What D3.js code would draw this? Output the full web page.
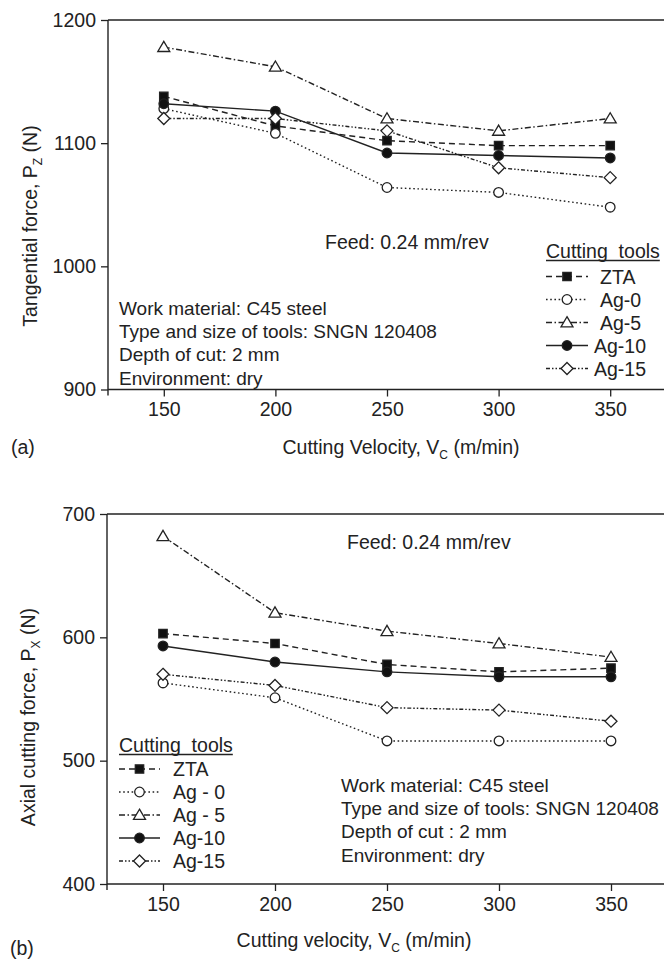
<!DOCTYPE html>
<html><head><meta charset="utf-8">
<script src="https://cdn.jsdelivr.net/npm/d3@7"></script>
<style>
body{margin:0;background:#fff;}
svg text{font-family:"Liberation Sans",Arial,Helvetica,sans-serif;fill:#222;}
</style></head>
<body><svg id="chart" width="664" height="963"></svg>
<script>
// ---- data ----
const velocities = [150, 200, 250, 300, 350];
const xTicks = [150, 200, 250, 300, 350];
const seriesNames = ["ZTA", "Ag-0", "Ag-5", "Ag-10", "Ag-15"];
const legendLabelsA = ["ZTA", "Ag-0", "Ag-5", "Ag-10", "Ag-15"];
const legendLabelsB = ["ZTA", "Ag - 0", "Ag - 5", "Ag-10", "Ag-15"];

const tangZTA  = [1138, 1114, 1102, 1098, 1098];
const tangAg0  = [1128, 1108, 1064, 1060, 1048];
const tangAg5  = [1178, 1162, 1120, 1110, 1120];
const tangAg10 = [1132, 1126, 1092, 1090, 1088];
const tangAg15 = [1120, 1120, 1110, 1080, 1072];
const tangTicks = [900, 1000, 1100, 1200];

const axZTA  = [603, 595, 578, 572, 575];
const axAg0  = [563, 551, 516, 516, 516];
const axAg5  = [682, 620, 605, 595, 584];
const axAg10 = [593, 580, 572, 568, 568];
const axAg15 = [570, 561, 543, 541, 532];
const axTicks = [400, 500, 600, 700];

const notesA = ["Work material: C45 steel", "Type and size of tools: SNGN 120408", "Depth of cut: 2 mm", "Environment: dry"];
const notesB = ["Work material: C45 steel", "Type and size of tools: SNGN 120408", "Depth of cut : 2 mm", "Environment: dry"];

// ---- styles ----
const styles = {
  "ZTA":   {dash: "6,4", marker: "square", fill: "#111"},
  "Ag-0":  {dash: "1.6,2.6", marker: "circle", fill: "#fff"},
  "Ag-5":  {dash: "6,2.5,1.5,2.5", marker: "triangle", fill: "#fff"},
  "Ag-10": {dash: null, marker: "circle", fill: "#111"},
  "Ag-15": {dash: "4,2,1.5,2,1.5,2", marker: "diamond", fill: "#fff"}
};
const INK = "#222";
const FS = 19.5;
const NOTE_FS = 19;
const SUB = 12;

const svg = d3.select("#chart");

function markerPath(type) {
  if (type === "square") return "M-4.2,-4.2H4.2V4.2H-4.2Z";
  if (type === "circle") return "M4.8,0A4.8,4.8 0 1,1 -4.8,0A4.8,4.8 0 1,1 4.8,0Z";
  if (type === "triangle") return "M0,-5.8L6,4.4H-6Z";
  if (type === "diamond") return "M0,-6L6,0L0,6L-6,0Z";
}

function drawMarker(g, type, fill) {
  return g.append("path").attr("d", markerPath(type))
    .attr("fill", fill).attr("stroke", INK).attr("stroke-width", 1.3);
}

function drawPanel(cfg) {
  const x = d3.scaleLinear().domain([125, 375]).range(cfg.xRange);
  const y = d3.scaleLinear().domain(cfg.yDomain).range(cfg.yRange);
  const g = svg.append("g");
  const x0 = cfg.xRange[0], yb = cfg.yRange[0], yt = cfg.yRange[1];

  // y axis
  const ya = g.append("g").attr("transform", `translate(${x0},0)`)
    .call(d3.axisLeft(y).tickValues(cfg.yTicks).tickSize(7).tickPadding(5).tickFormat(d3.format("d")));
  ya.select(".domain").remove();
  ya.selectAll(".tick line").attr("stroke", INK).attr("stroke-width", 1.3);
  ya.selectAll(".tick text").attr("font-size", FS).attr("font-family", "Liberation Sans, Arial, sans-serif").attr("fill", INK);

  // x axis
  const xa = g.append("g").attr("transform", `translate(0,${yb})`)
    .call(d3.axisBottom(x).tickValues(cfg.xTicks).tickSize(7).tickPadding(6).tickFormat(d3.format("d")));
  xa.select(".domain").remove();
  xa.selectAll(".tick line").attr("stroke", INK).attr("stroke-width", 1.3);
  xa.selectAll(".tick text").attr("font-size", FS).attr("font-family", "Liberation Sans, Arial, sans-serif").attr("fill", INK);

  // frame lines
  g.append("line").attr("x1", x0).attr("x2", x0).attr("y1", yt).attr("y2", yb + 6)
    .attr("stroke", INK).attr("stroke-width", 1.4);
  g.append("line").attr("x1", x0).attr("x2", cfg.xRange[1]).attr("y1", yb).attr("y2", yb)
    .attr("stroke", INK).attr("stroke-width", 1.4);
  g.append("line").attr("x1", x0).attr("x2", cfg.xRange[1]).attr("y1", yt).attr("y2", yt)
    .attr("stroke", INK).attr("stroke-width", 1.4);

  // series
  const line = d3.line().x((d, i) => x(velocities[i])).y(d => y(d));
  seriesNames.forEach((name, k) => {
    const vals = cfg.series[k];
    const st = styles[name];
    g.append("path").datum(vals).attr("d", line).attr("fill", "none")
      .attr("stroke", INK).attr("stroke-width", 1.4)
      .attr("stroke-dasharray", st.dash);
    vals.forEach((v, i) => {
      drawMarker(g, st.marker, st.fill)
        .attr("transform", `translate(${x(velocities[i])},${y(v)})`);
    });
  });

  // feed text
  g.append("text").attr("x", cfg.feedPos[0]).attr("y", cfg.feedPos[1])
    .attr("font-size", FS).text("Feed: 0.24 mm/rev");

  // notes
  cfg.notes.forEach((t, i) => {
    g.append("text").attr("x", cfg.notePos[0]).attr("y", cfg.notePos[1] + i * 23.2)
      .attr("font-size", NOTE_FS).text(t);
  });

  // legend
  const L = cfg.legend;
  const title = g.append("text").attr("x", L.x).attr("y", L.titleY)
    .attr("font-size", FS).attr("xml:space", "preserve").style("white-space", "pre")
    .text("Cutting  tools");
  const tw = title.node().getComputedTextLength();
  g.append("line").attr("x1", L.x).attr("x2", L.x + tw).attr("y1", L.titleY + 2.5).attr("y2", L.titleY + 2.5)
    .attr("stroke", INK).attr("stroke-width", 1.3);
  seriesNames.forEach((name, k) => {
    const st = styles[name];
    const cy = L.y0 + k * 23;
    g.append("line").attr("x1", L.x).attr("x2", L.x + L.lineLen).attr("y1", cy).attr("y2", cy)
      .attr("stroke", INK).attr("stroke-width", 1.3).attr("stroke-dasharray", st.dash);
    drawMarker(g, st.marker, st.fill).attr("transform", `translate(${L.x + L.lineLen / 2},${cy})`);
    g.append("text").attr("x", L.textX[k]).attr("y", cy + 7).attr("font-size", FS).text(cfg.legendLabels[k]);
  });

  // axis titles
  const xt = g.append("text").attr("x", cfg.xTitle[0]).attr("y", cfg.xTitle[1])
    .attr("text-anchor", "middle").attr("font-size", FS);
  xt.append("tspan").text(cfg.xTitleText + ", V");
  xt.append("tspan").attr("font-size", SUB).attr("dy", 5).text("C");
  xt.append("tspan").attr("dy", -5).text(" (m/min)");

  const ytt = g.append("text").attr("transform", `translate(${cfg.yTitle[0]},${cfg.yTitle[1]}) rotate(-90)`)
    .attr("text-anchor", "middle").attr("font-size", FS);
  ytt.append("tspan").text(cfg.yTitleText + ", P");
  ytt.append("tspan").attr("font-size", SUB).attr("dy", 5).text(cfg.ySub);
  ytt.append("tspan").attr("dy", -5).text(" (N)");

  g.append("text").attr("x", cfg.tag[0]).attr("y", cfg.tag[1]).attr("font-size", FS).text(cfg.tagText);
}

drawPanel({
  xRange: [108, 666], yDomain: [900, 1200], yRange: [389.5, 20],
  xTicks: xTicks, yTicks: tangTicks,
  series: [tangZTA, tangAg0, tangAg5, tangAg10, tangAg15],
  feedPos: [325, 249], notes: notesA, notePos: [119, 315],
  legend: {x: 546, titleY: 258, y0: 276.5, lineLen: 42, textX: [600, 600, 600, 594, 594]},
  legendLabels: legendLabelsA,
  xTitle: [401, 454], xTitleText: "Cutting Velocity",
  yTitle: [37, 226], yTitleText: "Tangential force", ySub: "Z",
  tag: [11, 454], tagText: "(a)"
});

drawPanel({
  xRange: [107, 667], yDomain: [400, 700], yRange: [884, 514],
  xTicks: xTicks, yTicks: axTicks,
  series: [axZTA, axAg0, axAg5, axAg10, axAg15],
  feedPos: [347, 549], notes: notesB, notePos: [341, 792],
  legend: {x: 119, titleY: 752, y0: 769, lineLen: 41, textX: [173, 173, 173, 173, 173]},
  legendLabels: legendLabelsB,
  xTitle: [354, 947], xTitleText: "Cutting velocity",
  yTitle: [35, 717], yTitleText: "Axial cutting force", ySub: "X",
  tag: [10, 955], tagText: "(b)"
});
</script>
</body></html>
